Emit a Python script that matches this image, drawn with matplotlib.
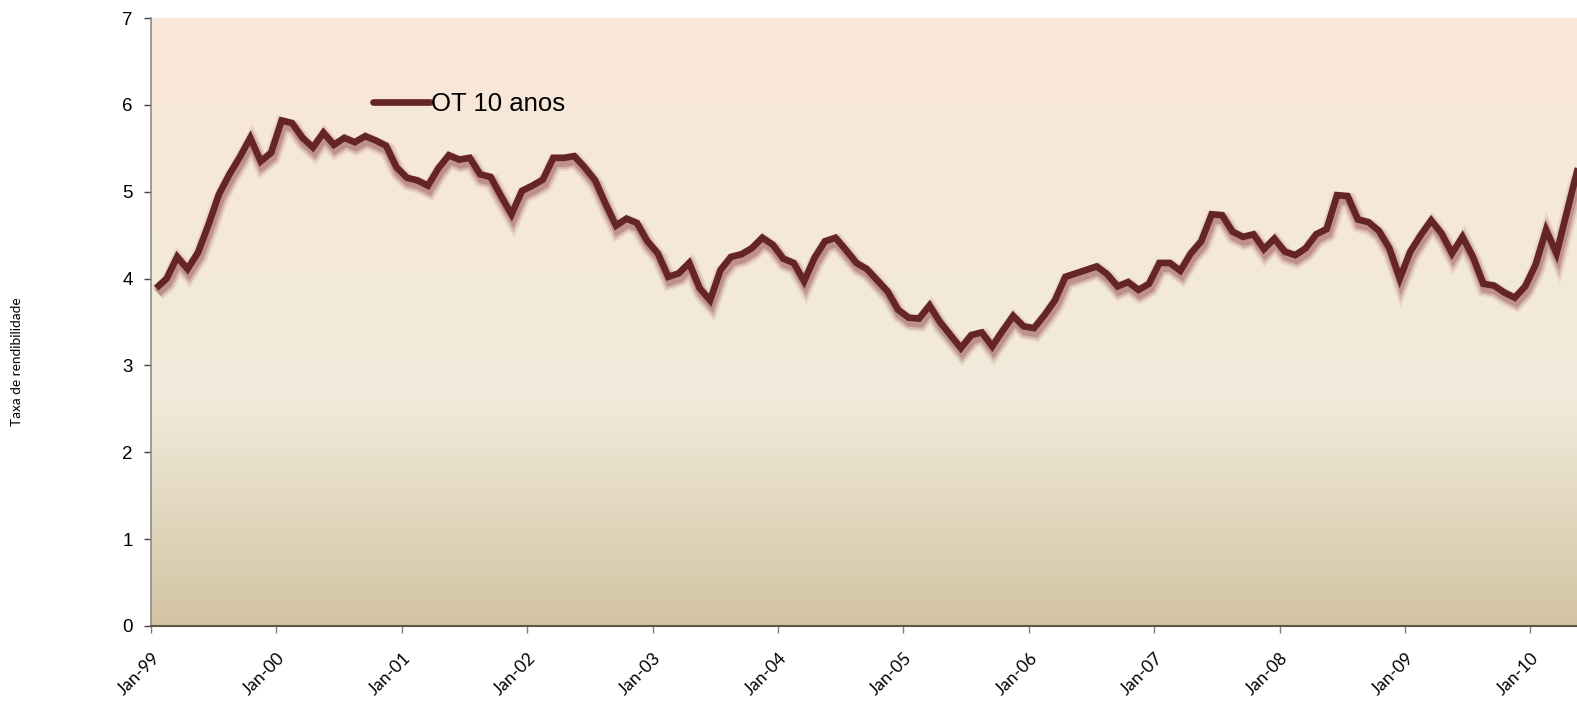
import numpy as np
import matplotlib.pyplot as plt
import matplotlib.patheffects as pe
import matplotlib.transforms as mtransforms
from matplotlib.colors import LinearSegmentedColormap
from matplotlib.lines import Line2D

# OT 10 anos - monthly yield (%)
y1999 = [3.89, 4.00, 4.25, 4.11, 4.30, 4.62, 4.97, 5.20, 5.40, 5.62, 5.35, 5.45]
y2000 = [5.82, 5.79, 5.62, 5.51, 5.68, 5.54, 5.62, 5.57, 5.64, 5.59, 5.53, 5.28]
y2001 = [5.16, 5.13, 5.07, 5.27, 5.42, 5.37, 5.39, 5.20, 5.17, 4.95, 4.74, 5.01]
y2002 = [5.07, 5.14, 5.39, 5.39, 5.41, 5.28, 5.13, 4.86, 4.61, 4.69, 4.64, 4.43]
y2003 = [4.29, 4.02, 4.06, 4.18, 3.89, 3.75, 4.10, 4.25, 4.28, 4.35, 4.47, 4.39]
y2004 = [4.23, 4.18, 3.97, 4.24, 4.43, 4.47, 4.33, 4.18, 4.11, 3.98, 3.85, 3.64]
y2005 = [3.55, 3.54, 3.69, 3.50, 3.35, 3.20, 3.35, 3.38, 3.22, 3.40, 3.57, 3.45]
y2006 = [3.43, 3.58, 3.75, 4.02, 4.06, 4.10, 4.14, 4.05, 3.91, 3.96, 3.87, 3.94]
y2007 = [4.18, 4.18, 4.09, 4.29, 4.43, 4.74, 4.73, 4.54, 4.48, 4.51, 4.34, 4.46]
y2008 = [4.31, 4.27, 4.35, 4.51, 4.57, 4.96, 4.95, 4.68, 4.65, 4.55, 4.35, 4.00]
y2009 = [4.31, 4.50, 4.67, 4.52, 4.29, 4.48, 4.25, 3.94, 3.92, 3.84, 3.78, 3.91]
y2010 = [4.16, 4.56, 4.29, 4.77, 5.25, 5.60]

year_labels = ['Jan-99', 'Jan-00', 'Jan-01', 'Jan-02', 'Jan-03', 'Jan-04',
               'Jan-05', 'Jan-06', 'Jan-07', 'Jan-08', 'Jan-09', 'Jan-10']
series_name = 'OT 10 anos'

values = np.array(y1999 + y2000 + y2001 + y2002 + y2003 + y2004 +
                  y2005 + y2006 + y2007 + y2008 + y2009 + y2010)
months = np.arange(len(values)) + 0.5   # points sit mid-month

W, H = 1577, 704
fig = plt.figure(figsize=(W / 100, H / 100), dpi=100)
fig.patch.set_facecolor('white')

# plot area runs off the right edge of the picture (cropped chart)
left_px, top_px, bottom_px, right_px = 151, 18, 626, 1625
month_px = 10.45
ax = fig.add_axes([left_px / W, 1 - bottom_px / H,
                   (right_px - left_px) / W, (bottom_px - top_px) / H])
xmax = (right_px - left_px) / month_px

# gradient background
cmap = LinearSegmentedColormap.from_list(
    'bg', [(0.0, '#d3c5a3'), (0.37, '#f1eada'), (1.0, '#fae7d9')])
grad = np.linspace(0, 1, 256).reshape(-1, 1)
ax.imshow(grad, extent=[0, xmax, 0, 7], origin='lower', aspect='auto',
          cmap=cmap, zorder=0)

line_color = '#652425'
ax.plot(months, values, color=line_color, lw=4.8, zorder=3,
        solid_joinstyle='miter', solid_capstyle='butt',
        path_effects=[
            pe.SimpleLineShadow(offset=(1, -3.5), shadow_color='#8a3c3c', alpha=0.10, linewidth=12),
            pe.SimpleLineShadow(offset=(1, -3.5), shadow_color='#8a3c3c', alpha=0.20, linewidth=9),
            pe.SimpleLineShadow(offset=(1, -3.5), shadow_color='#8a3c3c', alpha=0.30, linewidth=6),
            pe.Normal()])

ax.set_xlim(0, xmax)
ax.set_ylim(0, 7)

ax.set_yticks(range(0, 8))
ax.set_yticklabels([str(v) for v in range(0, 8)], fontsize=13.5,
                   family='Liberation Sans')
ax.set_xticks(np.arange(len(year_labels)) * 12)
ax.set_xticklabels(year_labels, rotation=45, ha='right', va='center',
                   rotation_mode='anchor', fontsize=12.5, family='Lato')
ax.tick_params(axis='y', direction='out', length=5, width=1, color='#404040', pad=8)
ax.tick_params(axis='x', direction='out', length=5, width=1, color='#808080', pad=16)

# nudge the slanted year labels a little to the right
shift = mtransforms.ScaledTranslation(6 / 100, 0, fig.dpi_scale_trans)
for lbl in ax.get_xticklabels():
    lbl.set_transform(lbl.get_transform() + shift)

for s in ['top', 'right']:
    ax.spines[s].set_visible(False)
ax.spines['left'].set_color('#8c8c8c')
ax.spines['left'].set_linewidth(1.2)
ax.spines['bottom'].set_color('#5e5546')
ax.spines['bottom'].set_linewidth(1.5)

# legend without the shadow
handle = Line2D([], [], color=line_color, lw=4.8, solid_capstyle='round')
fig.legend([handle], [series_name], loc='center left',
           bbox_to_anchor=(373 / W, 1 - 104 / H), frameon=False,
           borderpad=0, borderaxespad=0, handlelength=2.2, handletextpad=0.05,
           prop={'family': 'Liberation Sans', 'size': 18.5})

fig.text(17 / W, 1 - 362 / H, 'Taxa de rendibilidade', rotation=90,
         ha='center', va='center', fontsize=9.8, family='Lato')

fig.savefig('out.png', dpi=100)
